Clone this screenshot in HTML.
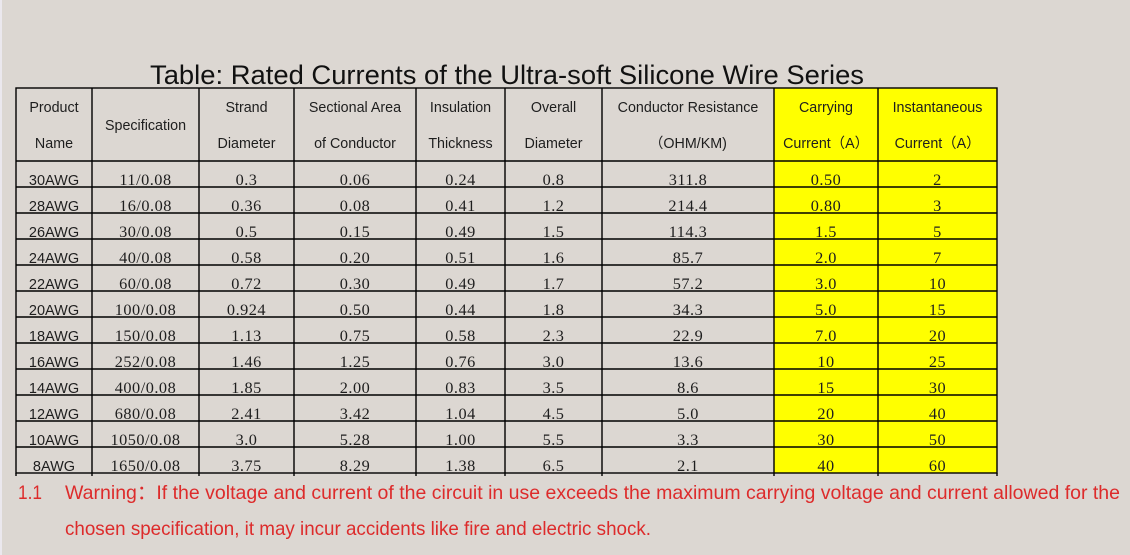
<!DOCTYPE html>
<html><head><meta charset="utf-8"><style>
html,body{margin:0;padding:0;width:1130px;height:555px;overflow:hidden;background:#dcd7d2;}
svg{display:block;}
.h{font-family:"Liberation Sans","Noto Sans CJK SC",sans-serif;font-size:14.3px;fill:#1e1e1e;text-anchor:middle;}
.a{font-family:"Liberation Sans",sans-serif;font-size:14.5px;fill:#1e1e1e;text-anchor:middle;}
.n{font-family:"Liberation Serif",serif;font-size:16.3px;letter-spacing:0.5px;fill:#1e1e1e;text-anchor:middle;}
.w{font-family:"Liberation Sans","Noto Sans CJK SC",sans-serif;font-size:19.5px;fill:#dd2b2b;}
</style></head><body>
<svg width="1130" height="555" viewBox="0 0 1130 555" xmlns="http://www.w3.org/2000/svg">
<rect x="0" y="0" width="1130" height="555" fill="#dcd7d2"/>
<rect x="0" y="0" width="2" height="555" fill="#ebe8ee"/>
<text x="150" y="84" font-family="Liberation Sans, sans-serif" font-size="27" fill="#111" textLength="714" lengthAdjust="spacingAndGlyphs">Table: Rated Currents of the Ultra-soft Silicone Wire Series</text>
<rect x="774" y="88" width="223" height="385" fill="#ffff00"/>
<g stroke="#000" stroke-width="1.4" fill="none">
<rect x="16" y="88" width="981" height="385"/>
<line x1="16" y1="161" x2="997" y2="161"/>
<line x1="16" y1="187" x2="997" y2="187"/>
<line x1="16" y1="213" x2="997" y2="213"/>
<line x1="16" y1="239" x2="997" y2="239"/>
<line x1="16" y1="265" x2="997" y2="265"/>
<line x1="16" y1="291" x2="997" y2="291"/>
<line x1="16" y1="317" x2="997" y2="317"/>
<line x1="16" y1="343" x2="997" y2="343"/>
<line x1="16" y1="369" x2="997" y2="369"/>
<line x1="16" y1="395" x2="997" y2="395"/>
<line x1="16" y1="421" x2="997" y2="421"/>
<line x1="16" y1="447" x2="997" y2="447"/>
<line x1="92" y1="88" x2="92" y2="476"/>
<line x1="199" y1="88" x2="199" y2="476"/>
<line x1="294" y1="88" x2="294" y2="476"/>
<line x1="416" y1="88" x2="416" y2="476"/>
<line x1="505" y1="88" x2="505" y2="476"/>
<line x1="602" y1="88" x2="602" y2="476"/>
<line x1="774" y1="88" x2="774" y2="476"/>
<line x1="878" y1="88" x2="878" y2="476"/>
<line x1="16" y1="473" x2="16" y2="476"/>
<line x1="997" y1="473" x2="997" y2="476"/>
</g>
<text class="h" x="54" y="112">Product</text>
<text class="h" x="54" y="148">Name</text>
<text class="h" x="145.5" y="130">Specification</text>
<text class="h" x="246.5" y="112">Strand</text>
<text class="h" x="246.5" y="148">Diameter</text>
<text class="h" x="355" y="112">Sectional Area</text>
<text class="h" x="355" y="148">of Conductor</text>
<text class="h" x="460.5" y="112">Insulation</text>
<text class="h" x="460.5" y="148">Thickness</text>
<text class="h" x="553.5" y="112">Overall</text>
<text class="h" x="553.5" y="148">Diameter</text>
<text class="h" x="688" y="112">Conductor Resistance</text>
<text class="h" x="688" y="148">（OHM/KM)</text>
<text class="h" x="826" y="112">Carrying</text>
<text class="h" x="826" y="148">Current（A）</text>
<text class="h" x="937.5" y="112">Instantaneous</text>
<text class="h" x="937.5" y="148">Current（A）</text>

<g>
<text class="a" x="54" y="185">30AWG</text><text class="n" x="145.5" y="185">11/0.08</text><text class="n" x="246.5" y="185">0.3</text><text class="n" x="355" y="185">0.06</text><text class="n" x="460.5" y="185">0.24</text><text class="n" x="553.5" y="185">0.8</text><text class="n" x="688" y="185">311.8</text><text class="n" x="826" y="185">0.50</text><text class="n" x="937.5" y="185">2</text>
<text class="a" x="54" y="211">28AWG</text><text class="n" x="145.5" y="211">16/0.08</text><text class="n" x="246.5" y="211">0.36</text><text class="n" x="355" y="211">0.08</text><text class="n" x="460.5" y="211">0.41</text><text class="n" x="553.5" y="211">1.2</text><text class="n" x="688" y="211">214.4</text><text class="n" x="826" y="211">0.80</text><text class="n" x="937.5" y="211">3</text>
<text class="a" x="54" y="237">26AWG</text><text class="n" x="145.5" y="237">30/0.08</text><text class="n" x="246.5" y="237">0.5</text><text class="n" x="355" y="237">0.15</text><text class="n" x="460.5" y="237">0.49</text><text class="n" x="553.5" y="237">1.5</text><text class="n" x="688" y="237">114.3</text><text class="n" x="826" y="237">1.5</text><text class="n" x="937.5" y="237">5</text>
<text class="a" x="54" y="263">24AWG</text><text class="n" x="145.5" y="263">40/0.08</text><text class="n" x="246.5" y="263">0.58</text><text class="n" x="355" y="263">0.20</text><text class="n" x="460.5" y="263">0.51</text><text class="n" x="553.5" y="263">1.6</text><text class="n" x="688" y="263">85.7</text><text class="n" x="826" y="263">2.0</text><text class="n" x="937.5" y="263">7</text>
<text class="a" x="54" y="289">22AWG</text><text class="n" x="145.5" y="289">60/0.08</text><text class="n" x="246.5" y="289">0.72</text><text class="n" x="355" y="289">0.30</text><text class="n" x="460.5" y="289">0.49</text><text class="n" x="553.5" y="289">1.7</text><text class="n" x="688" y="289">57.2</text><text class="n" x="826" y="289">3.0</text><text class="n" x="937.5" y="289">10</text>
<text class="a" x="54" y="315">20AWG</text><text class="n" x="145.5" y="315">100/0.08</text><text class="n" x="246.5" y="315">0.924</text><text class="n" x="355" y="315">0.50</text><text class="n" x="460.5" y="315">0.44</text><text class="n" x="553.5" y="315">1.8</text><text class="n" x="688" y="315">34.3</text><text class="n" x="826" y="315">5.0</text><text class="n" x="937.5" y="315">15</text>
<text class="a" x="54" y="341">18AWG</text><text class="n" x="145.5" y="341">150/0.08</text><text class="n" x="246.5" y="341">1.13</text><text class="n" x="355" y="341">0.75</text><text class="n" x="460.5" y="341">0.58</text><text class="n" x="553.5" y="341">2.3</text><text class="n" x="688" y="341">22.9</text><text class="n" x="826" y="341">7.0</text><text class="n" x="937.5" y="341">20</text>
<text class="a" x="54" y="367">16AWG</text><text class="n" x="145.5" y="367">252/0.08</text><text class="n" x="246.5" y="367">1.46</text><text class="n" x="355" y="367">1.25</text><text class="n" x="460.5" y="367">0.76</text><text class="n" x="553.5" y="367">3.0</text><text class="n" x="688" y="367">13.6</text><text class="n" x="826" y="367">10</text><text class="n" x="937.5" y="367">25</text>
<text class="a" x="54" y="393">14AWG</text><text class="n" x="145.5" y="393">400/0.08</text><text class="n" x="246.5" y="393">1.85</text><text class="n" x="355" y="393">2.00</text><text class="n" x="460.5" y="393">0.83</text><text class="n" x="553.5" y="393">3.5</text><text class="n" x="688" y="393">8.6</text><text class="n" x="826" y="393">15</text><text class="n" x="937.5" y="393">30</text>
<text class="a" x="54" y="419">12AWG</text><text class="n" x="145.5" y="419">680/0.08</text><text class="n" x="246.5" y="419">2.41</text><text class="n" x="355" y="419">3.42</text><text class="n" x="460.5" y="419">1.04</text><text class="n" x="553.5" y="419">4.5</text><text class="n" x="688" y="419">5.0</text><text class="n" x="826" y="419">20</text><text class="n" x="937.5" y="419">40</text>
<text class="a" x="54" y="445">10AWG</text><text class="n" x="145.5" y="445">1050/0.08</text><text class="n" x="246.5" y="445">3.0</text><text class="n" x="355" y="445">5.28</text><text class="n" x="460.5" y="445">1.00</text><text class="n" x="553.5" y="445">5.5</text><text class="n" x="688" y="445">3.3</text><text class="n" x="826" y="445">30</text><text class="n" x="937.5" y="445">50</text>
<text class="a" x="54" y="471">8AWG</text><text class="n" x="145.5" y="471">1650/0.08</text><text class="n" x="246.5" y="471">3.75</text><text class="n" x="355" y="471">8.29</text><text class="n" x="460.5" y="471">1.38</text><text class="n" x="553.5" y="471">6.5</text><text class="n" x="688" y="471">2.1</text><text class="n" x="826" y="471">40</text><text class="n" x="937.5" y="471">60</text>
</g>

<text class="w" x="18" y="499" textLength="24" lengthAdjust="spacingAndGlyphs">1.1</text>
<text class="w" x="65" y="499" textLength="1055" lengthAdjust="spacingAndGlyphs">Warning：If the voltage and current of the circuit in use exceeds the maximum carrying voltage and current allowed for the</text>
<text class="w" x="65" y="535" textLength="586" lengthAdjust="spacingAndGlyphs">chosen specification, it may incur accidents like fire and electric shock.</text>
</svg>
</body></html>
